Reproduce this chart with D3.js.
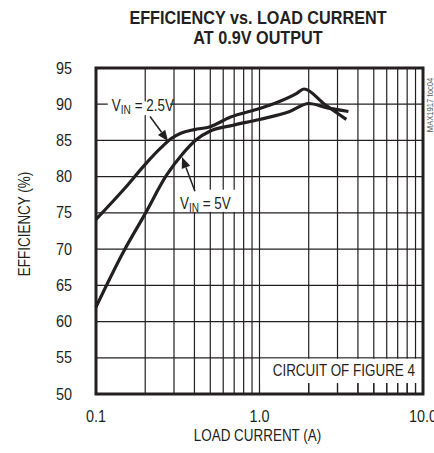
<!DOCTYPE html>
<html>
<head>
<meta charset="utf-8">
<script src="https://cdn.jsdelivr.net/npm/d3@7"></script>
<style>
  body { margin: 0; background: #fff; }
  text { font-family: "Liberation Sans Narrow", "Liberation Sans", sans-serif; fill: #231f20; }
</style>
</head>
<body>
<svg id="svg"></svg>
<script>
// data
const load25 = [0.1, 0.15, 0.2, 0.25, 0.29, 0.33, 0.4, 0.5, 0.66, 1.0, 1.3, 1.69, 1.87, 2.5, 3.4];
const eff25 = [74.1, 78.4, 81.7, 84.0, 85.3, 86.0, 86.5, 86.9, 88.2, 89.4, 90.3, 91.5, 92.1, 90.0, 87.9];

const load5 = [0.1, 0.147, 0.2, 0.27, 0.34, 0.41, 0.5, 0.69, 1.0, 1.53, 2.0, 2.6, 3.5];
const eff5 = [62.0, 69.6, 74.9, 80.2, 83.2, 85.1, 86.3, 87.1, 87.9, 89.0, 90.1, 89.5, 89.0];

const yTicks = [50, 55, 60, 65, 70, 75, 80, 85, 90, 95];
const xTicks = [0.1, 1, 10];
const xTickLabels = ["0.1", "1.0", "10.0"];
const xMinor = [0.2, 0.3, 0.4, 0.5, 0.6, 0.7, 0.8, 0.9, 2, 3, 4, 5, 6, 7, 8, 9];

const width = 434;
const height = 453;

let svg = d3.select("#svg").attr("width", width).attr("height", height);

const plotLeft = 96, plotRight = 423, plotTop = 68, plotBottom = 394;

let xScale = d3.scaleLog().domain([0.1, 10]).range([plotLeft, plotRight]);
let yScale = d3.scaleLinear().domain([50, 95]).range([plotBottom, plotTop]);

// squeeze text horizontally, the original uses a condensed face
function narrow(sel, k) {
    sel.each(function () {
        let w = this.getComputedTextLength();
        d3.select(this).attr("textLength", w * k).attr("lengthAdjust", "spacingAndGlyphs");
    });
}

// grid lines
let grid = svg.append("g").attr("stroke", "#231f20").attr("stroke-width", 1.2);
grid.selectAll(".hgrid")
    .data(yTicks.slice(1, -1))
    .enter().append("line")
    .attr("x1", plotLeft).attr("x2", plotRight)
    .attr("y1", d => yScale(d)).attr("y2", d => yScale(d));
grid.selectAll(".vgrid")
    .data(xMinor.concat([1]))
    .enter().append("line")
    .attr("x1", d => xScale(d)).attr("x2", d => xScale(d))
    .attr("y1", plotTop).attr("y2", plotBottom);

// white boxes behind the labels
svg.append("rect")
    .attr("x", xScale(0.118)).attr("y", yScale(90.4))
    .attr("width", xScale(0.3) - xScale(0.118) - 4).attr("height", yScale(88.5) - yScale(90.4))
    .attr("fill", "#fff");
svg.append("rect")
    .attr("x", xScale(0.31)).attr("y", yScale(78.2))
    .attr("width", xScale(0.75) - xScale(0.31)).attr("height", yScale(75) - yScale(78.2) - 1)
    .attr("fill", "#fff");
svg.append("rect")
    .attr("x", xScale(1) + 1).attr("y", yScale(55) + 1)
    .attr("width", plotRight - xScale(1) - 2).attr("height", yScale(51.5) - yScale(55) - 1)
    .attr("fill", "#fff");

// curves
let line = d3.line()
    .x(d => xScale(d[0]))
    .y(d => yScale(d[1]))
    .curve(d3.curveMonotoneX);

svg.append("path")
    .datum(d3.zip(load25, eff25))
    .attr("d", line)
    .attr("fill", "none")
    .attr("stroke", "#231f20")
    .attr("stroke-width", 3.2)
    .attr("stroke-linejoin", "round");

svg.append("path")
    .datum(d3.zip(load5, eff5))
    .attr("d", line)
    .attr("fill", "none")
    .attr("stroke", "#231f20")
    .attr("stroke-width", 3.2)
    .attr("stroke-linejoin", "round");

// frame
svg.append("rect")
    .attr("x", plotLeft).attr("y", plotTop)
    .attr("width", plotRight - plotLeft).attr("height", plotBottom - plotTop)
    .attr("fill", "none")
    .attr("stroke", "#231f20")
    .attr("stroke-width", 3);

// arrows
function arrow(x1, y1, x2, y2) {
    let ax = xScale(x1), ay = yScale(y1), bx = xScale(x2), by = yScale(y2);
    let ang = Math.atan2(by - ay, bx - ax);
    let len = 11, w = 4.5;
    let baseX = bx - len * Math.cos(ang), baseY = by - len * Math.sin(ang);
    svg.append("line")
        .attr("x1", ax).attr("y1", ay).attr("x2", baseX).attr("y2", baseY)
        .attr("stroke", "#231f20").attr("stroke-width", 1.5);
    svg.append("path")
        .attr("d", "M" + bx + "," + by +
            "L" + (baseX + w * Math.sin(ang)) + "," + (baseY - w * Math.cos(ang)) +
            "L" + (baseX - w * Math.sin(ang)) + "," + (baseY + w * Math.cos(ang)) + "Z")
        .attr("fill", "#231f20");
}
arrow(0.214, 88.3, 0.276, 84.9);
arrow(0.403, 78.0, 0.336, 82.7);

// annotation labels (scaled group, subscript tspans)
function vinLabel(x, y, val) {
    let t = svg.append("g")
        .attr("transform", "translate(" + xScale(x) + "," + yScale(y) + ") scale(0.84,1)")
        .append("text")
        .style("font-size", "16px");
    t.append("tspan").text("V");
    t.append("tspan").attr("dy", 3).style("font-size", "12px").text("IN");
    t.append("tspan").attr("dy", -3).text(" = " + val);
}
vinLabel(0.125, 89.05, "2.5V");
vinLabel(0.326, 75.5, "5V");

svg.append("g")
    .attr("transform", "translate(415," + yScale(52.5) + ") scale(0.84,1)")
    .append("text")
    .attr("text-anchor", "end")
    .style("font-size", "16px")
    .text("CIRCUIT OF FIGURE 4");

// short ticks at the bottom inside the box
svg.selectAll(".btick")
    .data(xMinor.filter(d => d > 1))
    .enter().append("line")
    .attr("x1", d => xScale(d)).attr("x2", d => xScale(d))
    .attr("y1", plotBottom - 11).attr("y2", plotBottom)
    .attr("stroke", "#231f20").attr("stroke-width", 1.2);

// y tick labels
svg.selectAll(".ylab")
    .data(yTicks)
    .enter().append("text")
    .attr("x", 72)
    .attr("y", d => yScale(d) + 5.5)
    .attr("text-anchor", "end")
    .style("font-size", "16px")
    .text(d => d)
    .call(narrow, 0.9);

// x tick labels
svg.selectAll(".xlab")
    .data(xTicks)
    .enter().append("text")
    .attr("x", d => xScale(d))
    .attr("y", 422)
    .attr("text-anchor", "middle")
    .style("font-size", "16px")
    .text((d, i) => xTickLabels[i])
    .call(narrow, 0.9);

// axis titles
svg.append("text")
    .attr("x", (plotLeft + plotRight) / 2 - 2)
    .attr("y", 441)
    .attr("text-anchor", "middle")
    .style("font-size", "16px")
    .text("LOAD CURRENT (A)")
    .call(narrow, 0.84);

svg.append("text")
    .attr("transform", "translate(30,224) rotate(-90)")
    .attr("text-anchor", "middle")
    .style("font-size", "16px")
    .text("EFFICIENCY (%)")
    .call(narrow, 0.84);

// title
svg.append("text")
    .attr("x", 258).attr("y", 24)
    .attr("text-anchor", "middle")
    .style("font-size", "18px")
    .style("font-weight", "bold")
    .text("EFFICIENCY vs. LOAD CURRENT")
    .call(narrow, 0.9);
svg.append("text")
    .attr("x", 258).attr("y", 44)
    .attr("text-anchor", "middle")
    .style("font-size", "18px")
    .style("font-weight", "bold")
    .text("AT 0.9V OUTPUT")
    .call(narrow, 0.9);

// figure id
svg.append("text")
    .attr("transform", "translate(433,105) rotate(-90)")
    .attr("text-anchor", "middle")
    .style("font-size", "9px")
    .style("fill", "#555")
    .text("MAX1917 toc04")
    .call(narrow, 0.85);
</script>
</body>
</html>
